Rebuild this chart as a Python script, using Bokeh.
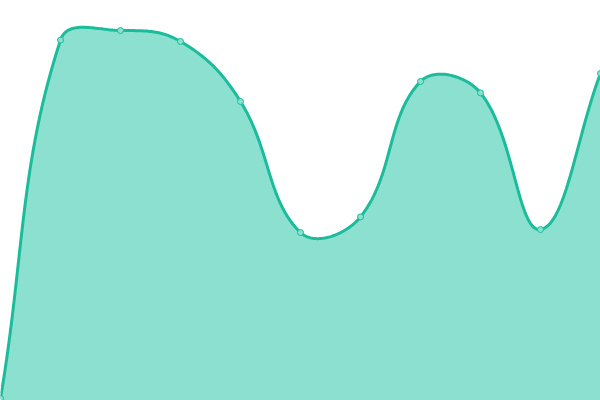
import numpy as np
from bokeh.plotting import figure
from bokeh.embed import file_html
from bokeh.resources import INLINE

# data (index positions and values on a 0-100 scale)
labels = list(range(11))
values = [0.5, 90.1, 92.5, 89.75, 74.75, 42.0, 45.9, 79.75, 76.9, 42.75, 81.75]

W, H = 600, 400
X_MAX, Y_MIN, Y_MAX = 10, 0, 100
LINE = "#1abc9c"
FILL = "#8be0cf"

p = figure(width=W, height=H, x_range=(0, X_MAX), y_range=(Y_MIN, Y_MAX),
           output_backend="svg", toolbar_location=None, min_border=0)
p.axis.visible = False
p.grid.visible = False
p.outline_line_color = None
p.background_fill_color = "white"
p.border_fill_color = "white"

# Chart.js-like spline (tension 0.4) computed in screen space
sx = np.array(labels, float) * W / X_MAX
sy = (np.array(values, float) - Y_MIN) * H / (Y_MAX - Y_MIN)
n = len(sx)
t = 0.4
cpp = np.zeros((n, 2)); cpn = np.zeros((n, 2))
for i in range(n):
    prev = (sx[max(i - 1, 0)], sy[max(i - 1, 0)])
    cur = (sx[i], sy[i])
    nxt = (sx[min(i + 1, n - 1)], sy[min(i + 1, n - 1)])
    d01 = np.hypot(cur[0] - prev[0], cur[1] - prev[1])
    d12 = np.hypot(nxt[0] - cur[0], nxt[1] - cur[1])
    tot = d01 + d12
    s01 = d01 / tot if tot else 0
    s12 = d12 / tot if tot else 0
    fa, fb = t * s01, t * s12
    cpp[i] = (cur[0] - fa * (nxt[0] - prev[0]), cur[1] - fa * (nxt[1] - prev[1]))
    cpn[i] = (cur[0] + fb * (nxt[0] - prev[0]), cur[1] + fb * (nxt[1] - prev[1]))
cpp[:, 0] = np.clip(cpp[:, 0], 0, W); cpp[:, 1] = np.clip(cpp[:, 1], 0, H)
cpn[:, 0] = np.clip(cpn[:, 0], 0, W); cpn[:, 1] = np.clip(cpn[:, 1], 0, H)

xs, ys = [], []
u = np.linspace(0, 1, 40)
for i in range(n - 1):
    P0 = np.array([sx[i], sy[i]]); P3 = np.array([sx[i + 1], sy[i + 1]])
    P1 = cpn[i]; P2 = cpp[i + 1]
    b = ((1 - u) ** 3)[:, None] * P0 + (3 * (1 - u) ** 2 * u)[:, None] * P1 + \
        (3 * (1 - u) * u ** 2)[:, None] * P2 + (u ** 3)[:, None] * P3
    if i > 0:
        b = b[1:]
    xs.extend(b[:, 0]); ys.extend(b[:, 1])
xs = np.array(xs) * X_MAX / W
ys = np.array(ys) * (Y_MAX - Y_MIN) / H + Y_MIN

p.varea(x=xs, y1=np.full_like(ys, Y_MIN), y2=ys, fill_color=FILL, fill_alpha=1)
p.line(x=xs, y=ys, line_color=LINE, line_width=3)
p.scatter(x=labels, y=values, size=6, marker="circle", fill_color=FILL,
          line_color=LINE, line_width=1)

open("out.html", "w").write(file_html(p, INLINE))
